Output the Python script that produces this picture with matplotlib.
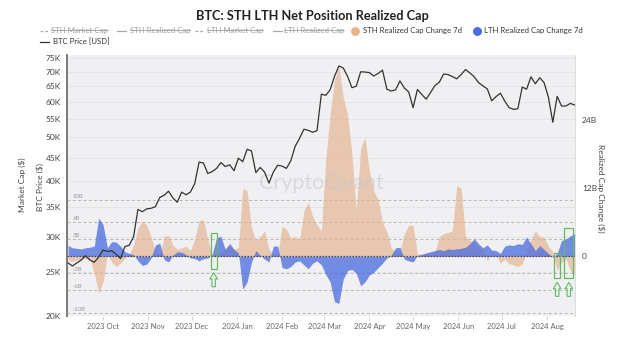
import numpy as np
import pandas as pd
import matplotlib
matplotlib.use('Agg')
import matplotlib.pyplot as plt
import matplotlib.dates as mdates
from matplotlib.lines import Line2D
from matplotlib.patches import Rectangle
from matplotlib.ticker import FixedLocator, FuncFormatter, NullLocator

plt.rcParams['font.family'] = ['Lato', 'DejaVu Sans']

# 3-day samples from 2023-09-07 to 2024-08-20
dates = pd.date_range('2023-09-07', periods=117, freq='3D')

# BTC price, thousands of USD
btc_price = [26.2, 25.8, 26.2, 26.6, 27.2, 26.6, 26.3, 27.0, 28.0, 27.8,
             27.9, 27.4, 26.8, 28.5, 28.7, 30.0, 34.5, 34.1, 34.6, 34.7,
             35.0, 36.7, 37.1, 37.9, 36.6, 35.8, 37.7, 37.2, 37.7, 39.4,
             44.0, 43.8, 41.5, 41.9, 42.6, 43.9, 43.0, 43.4, 42.1, 44.9,
             44.1, 47.0, 46.6, 41.7, 42.8, 41.8, 39.5, 41.8, 43.3, 43.1,
             42.6, 44.3, 47.7, 49.7, 52.1, 51.8, 51.3, 51.7, 62.4, 62.0,
             63.8, 68.3, 72.1, 71.4, 68.4, 64.5, 65.0, 70.0, 69.9, 69.7,
             68.5, 69.4, 70.6, 64.0, 63.4, 63.8, 66.8, 64.4, 63.1, 58.2,
             63.9, 62.3, 60.8, 62.9, 65.2, 66.3, 69.2, 69.0, 68.3, 67.5,
             69.0, 70.8, 69.6, 68.2, 66.2, 65.1, 64.1, 60.3, 61.6, 62.7,
             60.2, 58.2, 57.7, 57.9, 64.7, 64.0, 68.2, 65.8, 67.9, 66.2,
             61.4, 54.0, 61.7, 58.7, 58.7, 59.5, 59.0]

# 7d realized cap change, billions of USD
sth_change = [-0.8, -0.9, -0.7, -0.5, -0.4, -0.6, -3.0, -6.5, -4.5, 0.3,
              -1.0, -1.8, -1.2, -0.3, 0.3, 2.0, 5.0, 6.2, 5.5, 3.5,
              0.8, 0.3, 3.5, 3.7, 2.0, 1.2, 1.5, 1.8, 1.0, 3.0,
              6.3, 6.4, 3.0, 0.3, 0.5, 0.6, 1.5, 1.8, 1.3, 1.5,
              12.0, 11.5, 5.0, 2.8, 3.5, 4.5, 1.2, 0.3, 0.2, 5.3,
              4.8, 3.2, 3.5, 3.0, 8.0, 9.5, 7.0, 5.5, 4.5, 17.0,
              25.0, 31.0, 33.5, 28.0, 25.0, 18.0, 8.0, 19.0, 21.0, 15.0,
              11.5, 10.0, 6.0, 4.3, 1.5, 0.8, 0.8, 4.0, 5.5, 5.5,
              0.3, 0.5, 0.5, 0.3, 0.8, 3.5, 4.0, 4.2, 4.5, 12.5,
              12.0, 3.5, 2.8, 2.5, 1.5, 1.2, -0.8, 0.8, 0.2, -1.2,
              -0.5, -1.3, -1.5, -1.8, -1.3, 0.5, 3.0, 4.5, 3.5, 3.3,
              1.8, 0.8, -2.5, -1.0, -0.5, -2.5, -3.3]

lth_change = [1.9, 1.5, 1.4, 1.3, 1.5, 1.6, 1.8, 6.7, 5.6, 1.5,
              2.6, 2.5, 1.8, 0.8, 0.5, 0.3, -0.8, -1.6, -1.4, -0.3,
              2.0, 2.3, -0.6, -1.0, 0.2, 0.8, 0.7, 0.3, -0.3, -0.4,
              -0.8, -0.4, -0.3, 0.3, 3.3, 3.5, 1.2, 2.3, 1.2, 0.6,
              -5.8, -4.5, -1.0, 1.0, 0.2, -0.5, -1.0, 1.8, 1.8, -2.0,
              -2.2, -1.8, -1.0, -0.8, -1.5, -2.2, -1.2, -0.8, -1.5, -3.2,
              -4.5, -8.0, -8.3, -4.0, -2.5, -2.3, -3.0, -5.2, -4.5, -3.3,
              -2.8, -2.0, -1.2, -0.3, 0.2, 1.5, 1.6, -0.5, -0.8, -1.0,
              0.2, 0.3, 0.6, 0.8, 1.0, 1.2, 1.0, 1.3, 1.2, 1.3,
              1.4, 1.6, 2.2, 3.1, 2.2, 1.5, 2.0, 1.1, 1.0, 0.5,
              1.8, 2.0, 1.9, 2.2, 2.1, 3.4, 2.2, 1.0, 1.9, 1.2,
              0.5, -0.2, 0.5, 2.8, 3.0, 3.6, 4.0]

price_ticks = [20, 25, 30, 35, 40, 45, 50, 55, 60, 65, 70, 75]
change_ticks = [0, 12, 24]
inner_levels = [10, 6, 3, -3, -6, -10]

# highlighted windows: (start, end, low, high) in change units
highlights = [('2023-12-14', '2023-12-18', -2.2, 4.1),
              ('2024-08-06', '2024-08-10', -3.9, 0.5),
              ('2024-08-13', '2024-08-19', -3.9, 4.9)]

legend_rows = [
    # (x_marker, x_text, y, label, kind, colour, struck)
    (40, 51, 30.5, 'STH Market Cap', 'dash', '#a8a8a8', True),
    (117, 130, 30.5, 'STH Realized Cap', 'line', '#a8a8a8', True),
    (195, 207, 30.5, 'LTH Market Cap', 'dash', '#a8a8a8', True),
    (273, 284, 30.5, 'LTH Realized Cap', 'line', '#a8a8a8', True),
    (355, 363, 30.5, 'STH Realized Cap Change 7d', 'dot', '#e8b48a', False),
    (477, 484, 30.5, 'LTH Realized Cap Change 7d', 'dot', '#4a6ce0', False),
    (40, 53, 42, 'BTC Price [USD]', 'line', '#333333', False),
]

W, H = 624, 341
fig = plt.figure(figsize=(W / 100, H / 100), dpi=100)
fig.patch.set_facecolor('white')


def fx(x):
    return x / W


def fy(y):
    return 1 - y / H


rect = [fx(67), fy(316), 508 / W, 261 / H]
x0 = pd.Timestamp('2023-09-06 06:00')
x1 = pd.Timestamp('2024-08-20 06:00')

# price axis (background, grid, left ticks)
ax = fig.add_axes(rect)
ax.set_facecolor('#f0f0f3')
ax.set_yscale('log')
ax.set_ylim(19.95, 76.3)
ax.set_xlim(x0, x1)
ax.yaxis.set_major_locator(FixedLocator(price_ticks))
ax.yaxis.set_minor_locator(NullLocator())
ax.yaxis.set_major_formatter(FuncFormatter(lambda v, p: f'{int(round(v))}K'))
ax.grid(axis='y', color='#e3e3e7', lw=0.6)
ax.set_axisbelow(True)
ax.tick_params(axis='y', length=0, pad=4.5, labelsize=6, labelcolor='#444444')
ax.xaxis.set_major_locator(mdates.MonthLocator())
ax.xaxis.set_major_formatter(mdates.DateFormatter('%Y %b'))
ax.tick_params(axis='x', length=3, width=0.6, color='#cccccc', pad=2,
               labelsize=5.5, labelcolor='#666666')
for s in ['top', 'right', 'bottom']:
    ax.spines[s].set_visible(False)
ax.spines['left'].set_color('#7a7a7a')
ax.spines['left'].set_linewidth(1.4)

# realized cap change axis (areas, right ticks)
ax2 = ax.twinx()
ax2.set_ylim(-10.51, 35.44)
for s in ['top', 'left', 'bottom']:
    ax2.spines[s].set_visible(False)
ax2.spines['right'].set_color('#dddddd')
ax2.spines['right'].set_linewidth(0.8)
ax2.set_yticks(change_ticks)
ax2.set_yticklabels(['0' if v == 0 else f'{v}B' for v in change_ticks])
ax2.tick_params(axis='y', length=0, pad=5, labelsize=6, labelcolor='#444444')

for lv in inner_levels:
    ax2.axhline(lv, color='#b5b5b5', lw=0.7, ls=(0, (3, 2.5)), zorder=0.5)
    ax2.text(0.011, lv + 0.6, f'{lv}B', transform=ax2.get_yaxis_transform(),
             fontsize=4.3, color='#9a9a9a', va='center', ha='left', zorder=0.6)

ax2.fill_between(dates, 0, sth_change, color='#e3b48f', alpha=0.68, lw=0, zorder=1)
ax2.fill_between(dates, 0, lth_change, color='#4f6fdf', alpha=0.78, lw=0, zorder=2)
ax2.axhline(0, color='#4a4a4a', lw=0.9, ls=(0, (1.2, 1.2)), zorder=3)

ax2.text(0.5, 0.51, 'CryptoQuant', transform=ax2.transAxes, fontsize=15.5,
         color='#c8c8ce', alpha=0.55, ha='center', va='center', zorder=4)

for start, end, lo, hi in highlights:
    s = mdates.date2num(pd.Timestamp(start))
    e = mdates.date2num(pd.Timestamp(end))
    ax2.add_patch(Rectangle((s, lo), e - s, hi - lo, fill=False,
                            ec='#62bb62', lw=0.9, zorder=6))
    ax2.annotate('', xy=((s + e) / 2, lo - 0.7), xytext=(0, -10),
                 textcoords='offset points',
                 arrowprops=dict(arrowstyle='simple,head_length=0.45,head_width=0.55,tail_width=0.25',
                                 fc='none', ec='#62bb62', lw=0.8,
                                 shrinkA=0, shrinkB=0), zorder=6)

# price line on top
ax3 = fig.add_axes(rect)
ax3.set_yscale('log')
ax3.set_ylim(19.95, 76.3)
ax3.set_xlim(x0, x1)
ax3.axis('off')
ax3.patch.set_visible(False)
ax3.plot(dates, btc_price, color='#333333', lw=0.9)

# titles and axis labels
fig.text(fx(312), fy(16.5), 'BTC: STH LTH Net Position Realized Cap', ha='center',
         va='center', fontsize=9.2, fontweight='bold', color='#222222')
fig.text(fx(22), fy(185), 'Market Cap ($)', rotation=90, ha='center', va='center',
         fontsize=6, color='#444444')
fig.text(fx(40), fy(187), 'BTC Price ($)', rotation=90, ha='center', va='center',
         fontsize=6, color='#444444')
fig.text(fx(601), fy(188), 'Realized Cap Change ($)', rotation=270, ha='center',
         va='center', fontsize=6, color='#444444')

# legend
struck = []
for xm, tx, yl, label, kind, col, off in legend_rows:
    if kind == 'dot':
        fig.add_artist(Line2D([fx(xm)], [fy(yl)], marker='o', ms=5.4, color=col, lw=0))
    else:
        ls = (0, (2.2, 1.6)) if kind == 'dash' else '-'
        fig.add_artist(Line2D([fx(xm), fx(xm + 9)], [fy(yl), fy(yl)], color=col,
                              lw=0.9, ls=ls))
    t = fig.text(fx(tx), fy(yl), label, ha='left', va='center', fontsize=5.6,
                 color='#a0a0a0' if off else '#333333')
    if off:
        struck.append(t)

fig.canvas.draw()
inv = fig.transFigure.inverted()
for t in struck:
    bb = t.get_window_extent()
    ym = bb.y0 + bb.height * 0.52
    (a, b), (c, d) = inv.transform([(bb.x0, ym), (bb.x1, ym)])
    fig.add_artist(Line2D([a, c], [b, d], color='#a0a0a0', lw=0.6))

fig.savefig('out.png', dpi=100)
